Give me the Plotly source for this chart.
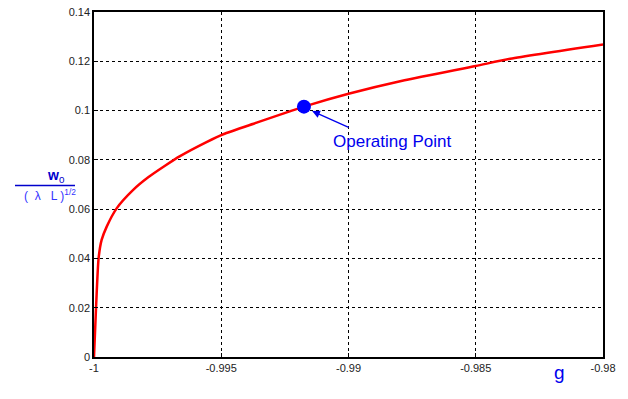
import plotly.graph_objects as go

g_vals = [-1.0, -0.99992, -0.99982, -0.99970, -0.99950, -0.99911, -0.99846, -0.99787,
          -0.99721, -0.99662, -0.99558, -0.99492, -0.99361, -0.99231, -0.99175,
          -0.99000, -0.98780, -0.98500, -0.98365, -0.98000]
w_vals = [0.0, 0.020, 0.040, 0.0475, 0.0529, 0.0603, 0.0678, 0.0729,
          0.0776, 0.0815, 0.0872, 0.0904, 0.0951, 0.0997, 0.1016,
          0.1068, 0.1123, 0.1181, 0.1210, 0.1268]
op_g = [-0.99175]
op_w = [0.1016]
x_ticks = [-1, -0.995, -0.99, -0.985, -0.98]
x_tick_labels = ["-1", "-0.995", "-0.99", "-0.985", "-0.98"]
y_ticks = [0, 0.02, 0.04, 0.06, 0.08, 0.1, 0.12, 0.14]
y_tick_labels = ["0", "0.02", "0.04", "0.06", "0.08", "0.1", "0.12", "0.14"]

FONT = "Liberation Sans, Arial, sans-serif"
BLUE = "#0000EE"

fig = go.Figure()
fig.add_trace(go.Scatter(x=g_vals, y=w_vals, mode="lines",
                         line=dict(color="#FF0000", width=2.5, shape="spline", smoothing=0.6),
                         showlegend=False, hoverinfo="skip"))
fig.add_trace(go.Scatter(x=op_g, y=op_w, mode="markers",
                         marker=dict(color="#0000FF", size=14), showlegend=False))

axis_common = dict(showline=True, linecolor="black", linewidth=1.5, mirror=True,
                   showgrid=True, gridcolor="black", griddash="dot", gridwidth=1,
                   ticks="inside", ticklen=4, tickcolor="black", zeroline=False,
                   automargin=False,
                   tickfont=dict(family=FONT, size=11, color="#222222"))

fig.update_xaxes(range=[-1, -0.98], tickvals=x_ticks, ticktext=x_tick_labels, **axis_common)
fig.update_yaxes(range=[0, 0.14], tickvals=y_ticks, ticktext=y_tick_labels, **axis_common)

# Operating point annotation
fig.add_annotation(x=-0.99143, y=0.0998, xref="x", yref="y", text="",
                   showarrow=True, arrowhead=2, arrowsize=1.2, arrowwidth=1.3,
                   arrowcolor=BLUE, ax=38, ay=17)
fig.add_annotation(x=-0.98829, y=0.0873, xref="x", yref="y", text="Operating Point",
                   showarrow=False, font=dict(family=FONT, size=17, color=BLUE))

# x label
fig.add_annotation(x=(567 - 94) / 509, y=(357 - 385) / 345, xref="paper", yref="paper",
                   text="g", showarrow=False, font=dict(family=FONT, size=19, color=BLUE))

# y label as fraction
fig.add_annotation(x=(45 - 94) / 509, y=(357 - 176) / 345, xref="paper", yref="paper",
                   text="<b>w</b><sub>0</sub>", showarrow=False,
                   font=dict(family=FONT, size=14, color="#0000CC"))
fig.add_annotation(x=(78 - 94) / 509, y=(357 - 195) / 345, xref="paper", yref="paper",
                   xanchor="right",
                   text="( &nbsp;λ &nbsp;&nbsp;L )<sup>1/2</sup>",
                   showarrow=False,
                   font=dict(family=FONT, size=12, color="#3333FF"))
fig.add_shape(type="line", xref="paper", yref="paper",
              x0=(15 - 94) / 509, x1=(75 - 94) / 509,
              y0=(357 - 185.5) / 345, y1=(357 - 185.5) / 345,
              line=dict(color="#0000CC", width=1.5))

fig.update_layout(width=628, height=399, margin=dict(l=94, r=25, t=12, b=42),
                  plot_bgcolor="white", paper_bgcolor="white",
                  font=dict(family=FONT))

fig.write_html("out.html")
